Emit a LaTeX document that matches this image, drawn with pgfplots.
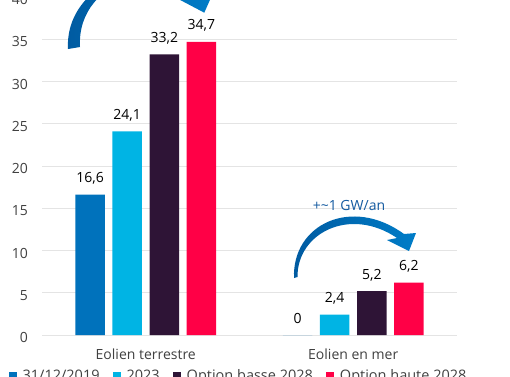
\documentclass[border=0pt]{standalone}
\usepackage{fontspec}
\setmainfont{Open Sans}
\usepackage{pgfplots}
\pgfplotsset{compat=1.18}
\usetikzlibrary{arrows.meta}
\definecolor{cBlue}{RGB}{0,114,188}
\definecolor{cCyan}{RGB}{0,180,228}
\definecolor{cDark}{RGB}{46,20,54}
\definecolor{cRed}{RGB}{255,0,70}
\definecolor{txtGray}{RGB}{64,64,64}
\definecolor{gridGray}{RGB}{228,228,228}
\definecolor{arrDark}{RGB}{0,90,160}
\definecolor{arrLight}{RGB}{0,125,200}
\definecolor{annBlue}{RGB}{20,90,160}
\begin{document}
\begin{tikzpicture}[x=1pt,y=1pt]
\useasboundingbox (0,0) rectangle (510,376);
\clip (0,0) rectangle (510,376);
\begin{axis}[
  at={(42pt,41pt)}, anchor=south west,
  scale only axis, width=415pt, height=338pt,
  xmin=-0.5, xmax=1.5, ymin=0, ymax=40,
  ybar=7.6pt, bar width=29.5pt,
  axis line style={draw=none},
  major tick length=0pt,
  ymajorgrids, grid style={gridGray, line width=1pt},
  ytick={0,5,...,40},
  xtick={0,1}, xticklabels={Eolien terrestre, Eolien en mer},
  xticklabel style={anchor=base, inner sep=0pt, yshift=-24pt, font=\fontsize{14}{16}\selectfont, text=txtGray},
  yticklabel style={anchor=east, inner sep=0pt, xshift=-14pt, yshift=-2.5pt, font=\fontsize{14}{16}\selectfont, text=txtGray},
  /pgf/number format/assume math mode=true,
  /pgf/number format/use comma,
  nodes near coords,
  nodes near coords style={anchor=base, inner sep=0pt, yshift=12pt, font=\fontsize{14}{16}\selectfont, text=black,
    /pgf/number format/.cd, fixed, precision=1, use comma, assume math mode=true},
  legend columns=-1,
  legend style={draw=none, fill=none, at={(0.4735,-0.09)}, anchor=north,
    font=\fontsize{14.5}{16}\selectfont, text=txtGray,
    /tikz/every odd column/.append style={column sep=4pt},
    /tikz/every even column/.append style={column sep=11pt}},
  legend image code/.code={\fill[#1,draw=none] (0pt,-3.5pt) rectangle (8pt,4pt);},
]
\addplot[fill=cBlue, draw=none] coordinates {(0,16.6) (1,0)};
\addplot[fill=cCyan, draw=none] coordinates {(0,24.1) (1,2.4)};
\addplot[fill=cDark, draw=none] coordinates {(0,33.2) (1,5.2)};
\addplot[fill=cRed, draw=none] coordinates {(0,34.7) (1,6.2)};
\legend{31/12/2019, 2023, Option basse 2028, Option haute 2028}
\end{axis}
% arrow 1 (large, mostly above picture)
\shade[left color=arrDark, right color=arrLight]
  (68,327) .. controls (64,405) and (186,431) .. (202.4,383.8)
  -- (215.4,388.4) -- (204.3,363.3) -- (180.0,376.1) -- (193.0,380.6)
  .. controls (179.2,420.2) and (76,402) .. (80,329) -- cycle;
% arrow 2
\shade[left color=arrDark, right color=arrLight]
  (294,98) .. controls (292,152) and (352,180) .. (404,142)
  -- (416,143) -- (409,125) -- (387,136) -- (397,138)
  .. controls (350,170) and (297,143) .. (297.5,99) -- cycle;
\node[text=annBlue, font=\fontsize{14}{16}\selectfont] at (349,171) {+\textasciitilde1 GW/an};
\end{tikzpicture}
\end{document}
